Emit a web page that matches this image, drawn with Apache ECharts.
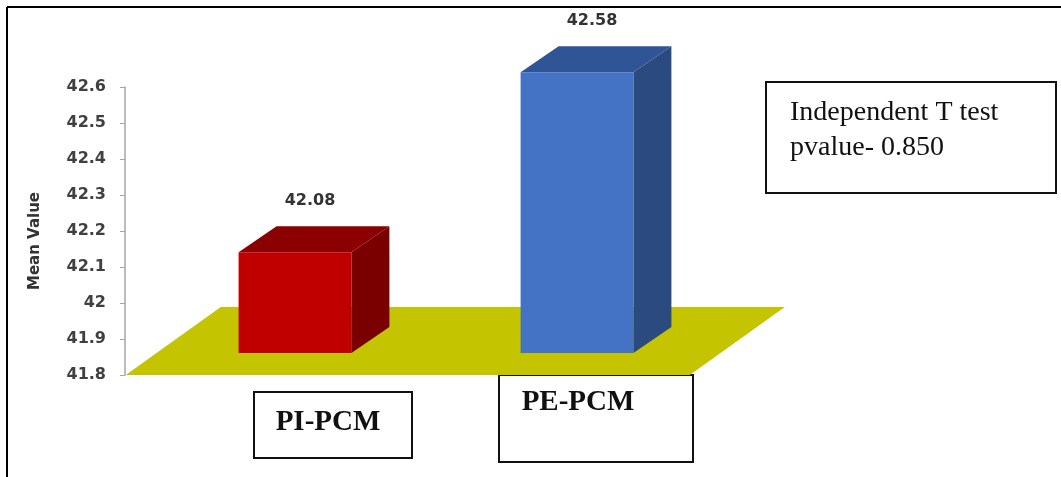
<!DOCTYPE html>
<html>
<head>
<meta charset="utf-8">
<script src="https://cdn.jsdelivr.net/npm/echarts@6/dist/echarts.min.js"></script>
<style>
html, body { margin: 0; padding: 0; background: #fff; }
#main { width: 1061px; height: 477px; }
</style>
</head>
<body>
<div id="main"></div>
<script>
// data
var categories = ['PI-PCM', 'PE-PCM'];
var meanValues = [42.08, 42.58];
var yMin = 41.8;
var yMax = 42.6;
var yStep = 0.1;
var noteLines = ['Independent T test', 'pvalue- 0.850'];

var barColors = [
    { front: '#c00000', top: '#8b0000', side: '#7a0000' },
    { front: '#4472c4', top: '#2f5597', side: '#2b4a80' }
];

var dom = document.getElementById('main');
var myChart = echarts.init(dom);

// fake 3d: the front face sits a bit above the axis value, depth goes up-right
var lift = 22, depthX = 38, depthY = -26;

function renderFloor(params, api) {
    var band = api.size([1, 0])[0];
    var p0 = api.coord([0, yMin]);
    var p1 = api.coord([categories.length - 1, yMin]);
    var xl = p0[0] - band * 0.6;
    var xr = p1[0] + band * 0.4;
    var y = p0[1];
    return {
        type: 'polygon',
        shape: { points: [[xl, y], [xr, y], [xr + 95, y - 68], [xl + 95, y - 68]] },
        style: { fill: '#c4c400' }
    };
}

function renderBar(params, api) {
    var i = api.value(0);
    var v = api.value(1);
    var top = api.coord([i, v]);
    var base = api.coord([i, yMin]);
    var w = api.size([1, 0])[0] * 0.4;
    var x0 = top[0] - w / 2, x1 = top[0] + w / 2;
    var y0 = top[1] - lift, y1 = base[1] - lift;
    var c = barColors[params.dataIndex];
    return {
        type: 'group',
        children: [
            {
                type: 'polygon',
                shape: { points: [[x1, y0], [x1 + depthX, y0 + depthY], [x1 + depthX, y1 + depthY], [x1, y1]] },
                style: { fill: c.side }
            },
            {
                type: 'polygon',
                shape: { points: [[x0, y0], [x0 + depthX, y0 + depthY], [x1 + depthX, y0 + depthY], [x1, y0]] },
                style: { fill: c.top }
            },
            {
                type: 'rect',
                shape: { x: x0, y: y0, width: w, height: y1 - y0 },
                style: { fill: c.front }
            },
            {
                type: 'text',
                x: top[0] + 15,
                y: y0 + depthY - 25,
                style: {
                    text: v.toFixed(2),
                    align: 'center',
                    verticalAlign: 'middle',
                    fill: '#333',
                    font: 'bold 16px "DejaVu Sans"'
                }
            }
        ]
    };
}

var serif = '"Liberation Serif", "Times New Roman", serif';

var option = {
    animation: false,
    grid: { left: 154, width: 564, top: 87, height: 288 },
    xAxis: {
        type: 'category',
        data: categories,
        axisLine: { show: false },
        axisTick: { show: false },
        axisLabel: { show: false }
    },
    yAxis: {
        type: 'value',
        min: yMin,
        max: yMax,
        interval: yStep,
        offset: 29,
        name: 'Mean Value',
        nameLocation: 'middle',
        nameRotate: 90,
        nameGap: 82,
        nameTextStyle: {
            fontFamily: 'DejaVu Sans', fontWeight: 'bold', fontSize: 15, color: '#333',
            padding: [0, 20, 0, 0]
        },
        axisLine: { show: true, lineStyle: { color: '#a6a6a6', width: 1.5 } },
        axisTick: { show: true, length: 5, lineStyle: { color: '#a6a6a6' } },
        splitLine: { show: false },
        axisLabel: {
            margin: 19,
            fontFamily: 'DejaVu Sans',
            fontWeight: 'bold',
            fontSize: 16,
            color: '#404040',
            formatter: function (val) { return String(parseFloat(val.toFixed(1))); }
        }
    },
    series: [
        {
            type: 'custom',
            z: 1,
            renderItem: renderFloor,
            data: [[0, yMin]]
        },
        {
            type: 'custom',
            z: 2,
            renderItem: renderBar,
            encode: { x: 0, y: 1 },
            data: meanValues.map(function (v, i) { return [i, v]; })
        }
    ],
    graphic: [
        // outer frame (top and left only)
        { type: 'line', shape: { x1: 7, y1: 7, x2: 1061, y2: 7 }, style: { stroke: '#000', lineWidth: 2 } },
        { type: 'line', shape: { x1: 7, y1: 7, x2: 7, y2: 477 }, style: { stroke: '#000', lineWidth: 2 } },
        // note box
        { type: 'rect', shape: { x: 766, y: 82, width: 290, height: 111 }, style: { fill: '#fff', stroke: '#111', lineWidth: 2 } },
        { type: 'text', x: 790, y: 113, style: { text: noteLines[0], font: '28px ' + serif, fill: '#111', verticalAlign: 'middle' } },
        { type: 'text', x: 790, y: 148, style: { text: noteLines[1], font: '28px ' + serif, fill: '#111', verticalAlign: 'middle' } },
        // category label boxes
        { type: 'rect', shape: { x: 254, y: 392, width: 158, height: 66 }, style: { fill: '#fff', stroke: '#111', lineWidth: 2 } },
        { type: 'text', x: 328, y: 423, style: { text: categories[0], font: 'bold 29px ' + serif, fill: '#111', align: 'center', verticalAlign: 'middle' } },
        { type: 'rect', shape: { x: 499, y: 375, width: 194, height: 87 }, style: { fill: '#fff', stroke: '#111', lineWidth: 2 } },
        { type: 'text', x: 578, y: 403, style: { text: categories[1], font: 'bold 29px ' + serif, fill: '#111', align: 'center', verticalAlign: 'middle' } }
    ]
};

if (option && typeof option === 'object') {
    myChart.setOption(option, true);
}
</script>
</body>
</html>
